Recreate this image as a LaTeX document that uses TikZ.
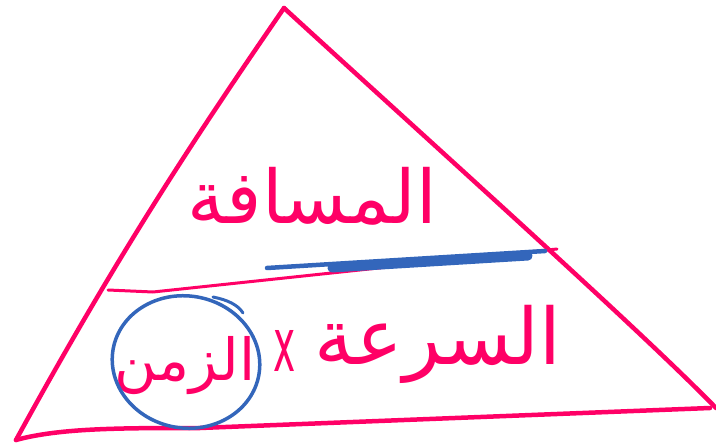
\documentclass[tikz,border=0pt]{standalone}
\usepackage{fontspec}
\TeXXeTstate=1
\newfontfamily\arabicfont[Script=Arabic]{DejaVu Sans}
\setsansfont{DejaVu Sans}
\definecolor{inkpink}{RGB}{255,0,102}
\definecolor{inkblue}{RGB}{51,102,187}
\begin{document}
\begin{tikzpicture}[x=1pt,y=-1pt,
  pinkline/.style={draw=inkpink,line width=4.5pt,line cap=round,line join=round},
  blueline/.style={draw=inkblue,line cap=round,line join=round},
  pinktext/.style={text=inkpink,inner sep=0pt}]
\useasboundingbox (0,0) rectangle (716,447);
% triangle vertices
\coordinate (apex) at (284,8);
\coordinate (bl) at (16,440);
\coordinate (br) at (710,408);
\coordinate (ml) at (108,290);
\coordinate (mr) at (557,249);
\draw[pinkline] (apex) .. controls (200,130) and (120,250) .. (bl);
\draw[pinkline] (apex) .. controls (450,160) and (640,330) .. (716,408);
\draw[pinkline] (bl) .. controls (60,428) and (120,428) .. (200,428) -- (br);
\draw[pinkline,line width=3pt] (ml) -- (153,292) -- (mr);
% blue fraction bar
\draw[blueline,line width=4.5pt] (267,268) -- (545,251);
\draw[blueline,line width=9pt] (332,268) -- (528,256);
% texts
\node[pinktext,font=\arabicfont\fontsize{74}{80}\selectfont] (dist) at (312,196) {\beginR المسافة\endR};
\node[pinktext,font=\arabicfont\fontsize{78}{84}\selectfont] (speed) at (438,344) {\beginR السرعة\endR};
\node[pinktext,font=\sffamily\fontsize{50}{60}\selectfont] (times) at (285,351) {\scalebox{0.75}[1.5]{x}};
\node[pinktext,font=\arabicfont\fontsize{58}{64}\selectfont] (time) at (185,366) {\beginR الزمن\endR};
% blue circle around time
\draw[blueline,line width=3.5pt,rotate around={-10:(186,362)}] (186,362) ellipse [x radius=74,y radius=66];
\draw[blueline,line width=3pt] (213,297) .. controls (228,300) and (238,305) .. (243,313);
\end{tikzpicture}
\end{document}
